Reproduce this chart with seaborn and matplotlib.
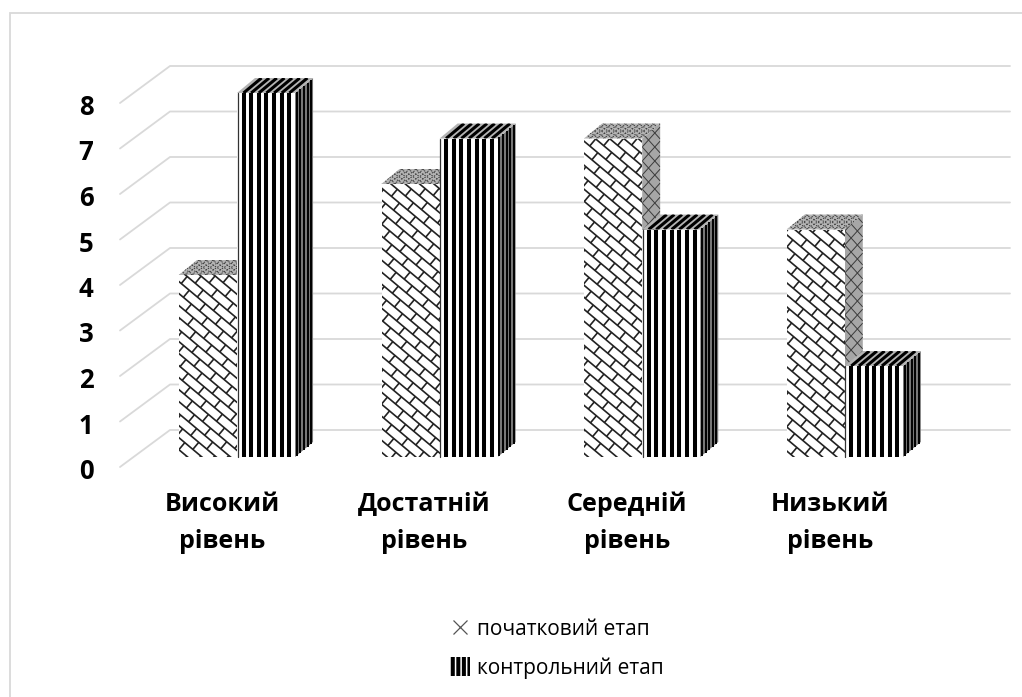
import matplotlib
matplotlib.use("Agg")
import matplotlib.pyplot as plt
from matplotlib.collections import LineCollection
from matplotlib.lines import Line2D
from matplotlib.patches import Patch, Polygon, Rectangle
from matplotlib.transforms import Affine2D, IdentityTransform
import numpy as np
import pandas as pd
import seaborn as sns

categories = ["Високий\nрівень", "Достатній\nрівень", "Середній\nрівень", "Низький\nрівень"]
start_values = [4, 6, 7, 5]
control_values = [8, 7, 5, 2]
series_names = ["початковий етап", "контрольний етап"]
y_ticks = [0, 1, 2, 3, 4, 5, 6, 7, 8]

W, H = 1022, 697
BAR_DX, BAR_DY = 18, 15   # глибина стовпчика, px
GRID_DX, GRID_DY = 50, 37  # глибина "стіни", px
GRID_COLOR = "#d9d9d9"

sns.set_theme(style="white")
plt.rcParams["font.family"] = ["Open Sans", "DejaVu Sans"]
plt.rcParams["hatch.linewidth"] = 2.9

df = pd.DataFrame({
    "cat": categories * 2,
    "val": start_values + control_values,
    "etap": [series_names[0]] * 4 + [series_names[1]] * 4,
})

fig = plt.figure(figsize=(W / 100, H / 100), dpi=100)
fig.patch.set_facecolor("white")
fig.add_artist(Rectangle((9.5 / W, -0.01), 1.0, 1 - 13 / H + 0.01, transform=fig.transFigure,
                         fill=False, ec=GRID_COLOR, lw=1.3))

ax = fig.add_axes([120 / W, 1 - 457 / H, 840 / W, 364 / H])
sns.barplot(data=df, x="cat", y="val", hue="etap", width=0.573, palette=["white", "white"],
            saturation=1, linewidth=0, legend=False, ax=ax, zorder=3)
ax.set_xlim((120 - 237) / 202.6, (960 - 237) / 202.6)
ax.set_ylim(0, 8)
ax.patch.set_alpha(0)
ax.set_xlabel("")
ax.set_ylabel("")
sns.despine(ax=ax, left=True, bottom=True)
ax.set_yticks(y_ticks)
ax.tick_params(axis="y", length=0, pad=19, labelsize=18.5)
ax.tick_params(axis="x", length=0, pad=25, labelsize=18)
for t in ax.get_yticklabels():
    t.set_fontweight("bold")
    t.set_color("black")
    t.set_transform(t.get_transform() + Affine2D().translate(0, -11.5))
for t in ax.get_xticklabels():
    t.set_fontweight("bold")
    t.set_color("black")
    t.set_linespacing(1.62)
    t.set_transform(t.get_transform() + Affine2D().translate(-15, 0))
fig.canvas.draw()

pix = IdentityTransform()


def to_px(x, y):
    return ax.transData.transform((x, y))


# сітка: стіна і бокова грань
for v in y_ticks:
    x0, y0 = to_px(ax.get_xlim()[0], v)
    y0 = y0 - 10
    pts = [(x0, y0), (x0 + GRID_DX, y0 + GRID_DY), (1010, y0 + GRID_DY)]
    fig.add_artist(Line2D(*zip(*pts), transform=pix, color=GRID_COLOR, lw=1.3, zorder=0))


def brick_lines(x0, y0, x1, y1):
    """Діагональна "цегла" у прямокутнику (координати в px)."""
    ang = np.deg2rad(-40)
    u = np.array([np.cos(ang), np.sin(ang)])
    n = np.array([-np.sin(ang), np.cos(ang)])
    step_n, step_u = 9.2, 21.0
    c = np.array([(x0 + x1) / 2, (y0 + y1) / 2])
    r = int(np.hypot(x1 - x0, y1 - y0) / 2) + 30
    segs = []
    for i in range(-int(r / step_n), int(r / step_n) + 1):
        p = c + n * i * step_n
        segs.append([p - u * r, p + u * r])
        off = (i % 2) * step_u / 2
        for j in range(-int(r / step_u), int(r / step_u) + 1):
            q = p + u * (j * step_u + off)
            segs.append([q, q + n * step_n])
    return segs


bars = ax.patches[:8]
for k, bar in enumerate(bars):
    left = bar.get_x()
    right = left + bar.get_width()
    h = bar.get_height()
    xl, yb = to_px(left, 0)
    xr, yt = to_px(right, h)
    side = [(xr, yb), (xr + BAR_DX, yb + BAR_DY), (xr + BAR_DX, yt + BAR_DY), (xr, yt)]
    top = [(xl, yt), (xl + BAR_DX, yt + BAR_DY), (xr + BAR_DX, yt + BAR_DY), (xr, yt)]
    z = 3 + k % 4 * 0.1 + (k // 4) * 0.01
    front_rect = Rectangle((xl, yb), xr - xl, yt - yb, transform=pix, fc="white", ec="none", zorder=z + 0.002)
    side_poly = Polygon(side, transform=pix, fc="#a6a6a6", ec="none", zorder=z)
    top_poly = Polygon(top, transform=pix, fc="#b4b4b4", ec="none", zorder=z)
    fig.add_artist(side_poly)
    fig.add_artist(top_poly)
    fig.add_artist(front_rect)
    if k < 4:
        lc = LineCollection(brick_lines(xl, yb, xr, yt), transform=pix, colors="#222222", lw=1.2, zorder=z + 0.003)
        fig.add_artist(lc)
        lc.set_clip_path(front_rect)
        # бічна грань: сіра сітка
        segs = []
        for s in np.arange(yb - 40, yt + 40, 14.0):
            segs.append([(xr, s), (xr + BAR_DX, s + 20)])
            segs.append([(xr, s), (xr + BAR_DX, s - 20)])
        lc2 = LineCollection(segs, transform=pix, colors="#3a3a3a", lw=0.7, zorder=z + 0.001)
        fig.add_artist(lc2)
        lc2.set_clip_path(side_poly)
        # верхня грань: дрібний візерунок
        segs = []
        for s in np.arange(xl - 30, xr + 30, 7.0):
            segs.append([(s, yt), (s + 24, yt + BAR_DY)])
            segs.append([(s, yt + BAR_DY), (s + 24, yt)])
        lc3 = LineCollection(segs, transform=pix, colors="#3a3a3a", lw=0.7, linestyles=(0, (1.5, 1.5)), zorder=z + 0.001)
        fig.add_artist(lc3)
        lc3.set_clip_path(top_poly)
    else:
        period = 7.65
        centers = np.arange(xl + 6.5, xr - 1, period)
        segs = [[(s, yb), (s, yt)] for s in centers]
        lc = LineCollection(segs, transform=pix, colors="black", lw=2.9, zorder=z + 0.003, capstyle="butt")
        fig.add_artist(lc)
        fig.add_artist(Line2D([xl + 0.5, xl + 0.5], [yb, yt], transform=pix, color="#333333", lw=0.9, zorder=z + 0.003))
        segs = [[(s, yt), (s + BAR_DX, yt + BAR_DY)] for s in centers]
        lc3 = LineCollection(segs, transform=pix, colors="black", lw=2.2, zorder=z + 0.001, capstyle="butt")
        fig.add_artist(lc3)
        lc3.set_clip_path(top_poly)
        side_poly.set_facecolor("#777777")
        segs = []
        for f in np.linspace(0.1, 0.9, 5):
            segs.append([(xr + BAR_DX * f, yb + BAR_DY * f), (xr + BAR_DX * f, yt + BAR_DY * f)])
        fig.add_artist(LineCollection(segs, transform=pix, colors="black", lw=1.4, zorder=z + 0.001))

handles = [Line2D([], [], marker="x", ls="", color="#555555", mew=0.9, ms=10, label=series_names[0]),
           Patch(fc="white", ec="black", lw=0, hatch="|||", label=series_names[1])]
fig.legend(handles=handles, loc="upper left", bbox_to_anchor=(435 / W, 1 - 604 / H), frameon=False, borderpad=0.2,
           fontsize=15, handlelength=1.0, handleheight=1.0, handletextpad=0.3, labelspacing=0.82, labelcolor="black")

fig.savefig("out.png", dpi=100)
